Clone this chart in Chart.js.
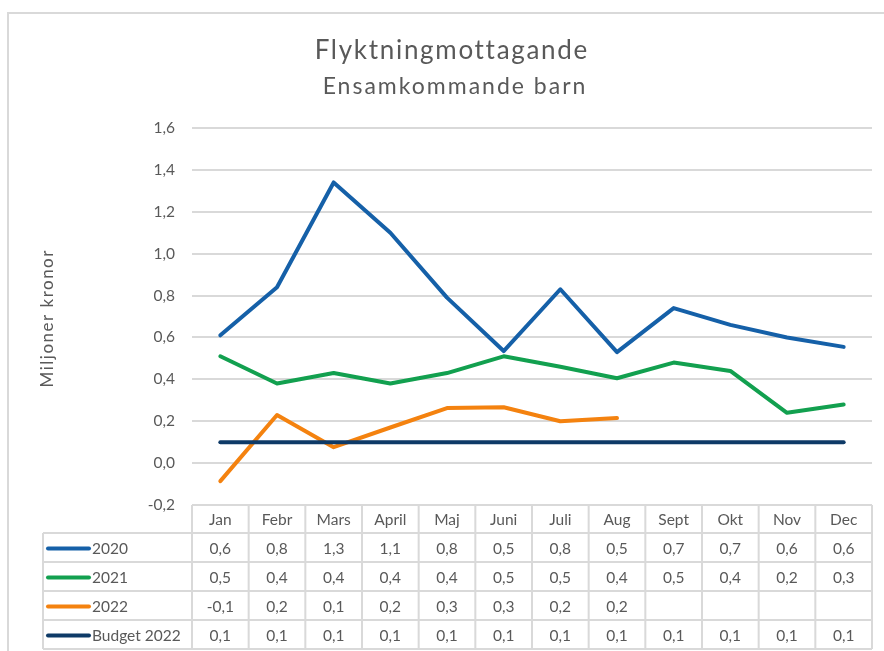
<!DOCTYPE html>
<html><head><meta charset="utf-8">
<script src="https://cdn.jsdelivr.net/npm/chart.js@4.4.1/dist/chart.umd.min.js"></script>
<style>html,body{margin:0;padding:0;background:#fff;overflow:hidden}#wrap{position:relative;width:884px;height:651px}</style>
</head><body><div id="wrap"><canvas id="c" width="884" height="651"></canvas></div>
<script>
const months = ['Jan','Febr','Mars','April','Maj','Juni','Juli','Aug','Sept','Okt','Nov','Dec'];
const seriesNames = ['2020','2021','2022','Budget 2022'];
const values2020 = [0.61, 0.84, 1.34, 1.10, 0.79, 0.535, 0.83, 0.53, 0.74, 0.66, 0.60, 0.555];
const values2021 = [0.51, 0.38, 0.43, 0.38, 0.43, 0.51, 0.46, 0.405, 0.48, 0.44, 0.24, 0.28];
const values2022 = [-0.086, 0.23, 0.076, 0.17, 0.263, 0.267, 0.20, 0.215, null, null, null, null];
const valuesBudget = [0.1, 0.1, 0.1, 0.1, 0.1, 0.1, 0.1, 0.1, 0.1, 0.1, 0.1, 0.1];
const yTicks = [-0.2, 0.0, 0.2, 0.4, 0.6, 0.8, 1.0, 1.2, 1.4, 1.6];
const titleText = 'Flyktningmottagande';
const subtitleText = 'Ensamkommande barn';
const yTitleText = 'Miljoner kronor';

const colors = ['#1560a8', '#12a04f', '#f4820f', '#0e3a67'];
const FONT = 'Lato, "Liberation Sans", sans-serif';
const TXT = '#595959';
const GRID = '#d9d9d9';
const fmt = v => v.toFixed(1).replace('.', ',');

function spacedText(ctx, text, x, y, spacing) {
  ctx.letterSpacing = spacing + 'px';
  ctx.fillText(text, x + spacing / 2, y);
  ctx.letterSpacing = '0px';
}

const frame = {
  id: 'frame',
  beforeDraw(chart) {
    const ctx = chart.ctx;
    ctx.save();
    ctx.strokeStyle = GRID; ctx.lineWidth = 2;
    ctx.beginPath();
    ctx.moveTo(8, 651); ctx.lineTo(8, 13); ctx.lineTo(884, 13);
    ctx.stroke();
    ctx.fillStyle = TXT;
    ctx.textAlign = 'center'; ctx.textBaseline = 'alphabetic';
    ctx.font = '26px ' + FONT;
    spacedText(ctx, titleText, 451, 59, 1.7);
    ctx.font = '23px ' + FONT;
    spacedText(ctx, subtitleText, 454, 94, 2.0);
    ctx.save();
    ctx.translate(48, 319);
    ctx.rotate(-Math.PI / 2);
    ctx.font = '17px ' + FONT;
    ctx.textBaseline = 'middle';
    spacedText(ctx, yTitleText, 0, 0, 1.5);
    ctx.restore();
    ctx.restore();
  }
};

const dataTable = {
  id: 'dataTable',
  afterDraw(chart) {
    const ctx = chart.ctx, xs = chart.scales.x, area = chart.chartArea;
    const n = months.length;
    const colW = (area.right - area.left) / n;
    const top = area.bottom;
    const headerBottom = top + 28;
    const rowH = 29;
    const legendLeft = 43;
    const rows = [values2020, values2021, values2022, valuesBudget];
    const bottom = headerBottom + rowH * rows.length;
    ctx.save();
    ctx.strokeStyle = GRID; ctx.lineWidth = 2;
    ctx.beginPath();
    ctx.moveTo(area.left, top); ctx.lineTo(area.right, top);
    for (let k = 0; k <= rows.length; k++) {
      const y = headerBottom + k * rowH;
      ctx.moveTo(legendLeft, y); ctx.lineTo(area.right, y);
    }
    for (let i = 0; i <= n; i++) {
      const x = area.left + i * colW;
      ctx.moveTo(x, top); ctx.lineTo(x, bottom);
    }
    ctx.moveTo(legendLeft, headerBottom); ctx.lineTo(legendLeft, bottom);
    ctx.stroke();

    ctx.fillStyle = TXT;
    ctx.font = '15.5px ' + FONT;
    ctx.textAlign = 'center'; ctx.textBaseline = 'middle';
    months.forEach((m, i) => ctx.fillText(m, xs.getPixelForValue(i), top + 15));
    rows.forEach((vals, r) => {
      const yc = headerBottom + r * rowH + rowH / 2 + 1;
      vals.forEach((v, i) => {
        if (v === null) return;
        ctx.fillText(fmt(v), xs.getPixelForValue(i), yc);
      });
      ctx.save();
      ctx.strokeStyle = colors[r]; ctx.lineWidth = 4; ctx.lineCap = 'round';
      ctx.beginPath(); ctx.moveTo(48, yc); ctx.lineTo(89, yc); ctx.stroke();
      ctx.restore();
      ctx.textAlign = 'left';
      ctx.fillText(seriesNames[r], 92, yc);
      ctx.textAlign = 'center';
    });
    ctx.restore();
  }
};

const mk = (label, data, color, order) => ({
  label, data, borderColor: color, backgroundColor: color, borderWidth: 4,
  pointRadius: 0, tension: 0, borderCapStyle: 'round', borderJoinStyle: 'round',
  spanGaps: false, order
});

new Chart(document.getElementById('c'), {
  type: 'line',
  data: {
    labels: months,
    datasets: [
      mk(seriesNames[0], values2020, colors[0], 3),
      mk(seriesNames[1], values2021, colors[1], 2),
      mk(seriesNames[2], values2022, colors[2], 1),
      mk(seriesNames[3], valuesBudget, colors[3], 0)
    ]
  },
  options: {
    responsive: false,
    animation: false,
    layout: { padding: { top: 128, left: 18, right: 12, bottom: 146 } },
    plugins: {
      legend: { display: false },
      tooltip: { enabled: false },
      title: { display: false },
      subtitle: { display: false }
    },
    scales: {
      x: { display: false, offset: true },
      y: {
        min: yTicks[0], max: yTicks[yTicks.length - 1],
        afterBuildTicks: s => { s.ticks = yTicks.map(v => ({ value: v })); },
        afterFit: s => { s.width = 174; },
        border: { display: false },
        grid: { color: GRID, lineWidth: 2, drawTicks: false },
        ticks: {
          color: TXT, padding: 17,
          font: { family: FONT, size: 15.5 },
          callback: v => fmt(v)
        },
        title: { display: false }
      }
    }
  },
  plugins: [frame, dataTable]
});
</script>
</body></html>
